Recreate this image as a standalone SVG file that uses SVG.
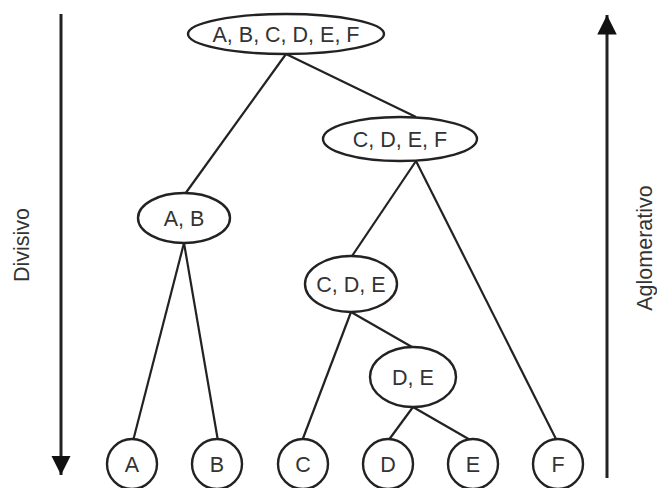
<svg xmlns="http://www.w3.org/2000/svg" width="657" height="488" viewBox="0 0 657 488">
  <style>
    .node { fill: #fff; stroke: #222; stroke-width: 2.4; }
    .lbl { font-family: "Liberation Sans", Arial, sans-serif; font-size: 21.5px; fill: #333; text-anchor: middle; }
    .edge { stroke: #222; stroke-width: 2.2; fill: none; }
    .axis { stroke: #222; stroke-width: 3; fill: none; }
  </style>
  <defs>
    <marker id="head" viewBox="0 0 10 10" refX="10" refY="5" markerWidth="6.5" markerHeight="6.5" markerUnits="strokeWidth" orient="auto">
      <path d="M0,0 L10,5 L0,10 Z" fill="#111"/>
    </marker>
  </defs>

  <rect width="657" height="488" fill="#fff"/>

  <!-- direction axes -->
  <g id="axes">
    <line class="axis" x1="61" y1="14" x2="61" y2="475" marker-end="url(#head)"/>
    <line class="axis" x1="607" y1="478" x2="607" y2="15" marker-end="url(#head)"/>
    <text class="lbl" transform="translate(29,245) rotate(-90)">Divisivo</text>
    <text class="lbl" transform="translate(652,248) rotate(-90)">Aglomerativo</text>
  </g>

  <!-- tree edges -->
  <g id="connectors">
    <line class="edge" x1="286" y1="54" x2="185" y2="194"/>
    <line class="edge" x1="286" y1="54" x2="416" y2="117"/>
    <line class="edge" x1="416" y1="161" x2="352" y2="256"/>
    <line class="edge" x1="416" y1="161" x2="557" y2="441"/>
    <line class="edge" x1="184" y1="243" x2="133" y2="441"/>
    <line class="edge" x1="184" y1="243" x2="218" y2="441"/>
    <line class="edge" x1="351" y1="312" x2="302" y2="441"/>
    <line class="edge" x1="351" y1="312" x2="412" y2="347"/>
    <line class="edge" x1="413" y1="407" x2="388" y2="441"/>
    <line class="edge" x1="413" y1="407" x2="472" y2="441"/>
  </g>

  <!-- clusters -->
  <g id="n-abcdef">
    <ellipse class="node" cx="286" cy="34" rx="98" ry="20"/>
    <text class="lbl" x="286" y="41.5">A, B, C, D, E, F</text>
  </g>
  <g id="n-cdef">
    <ellipse class="node" cx="400" cy="139" rx="77" ry="22"/>
    <text class="lbl" x="400" y="146.5">C, D, E, F</text>
  </g>
  <g id="n-ab">
    <ellipse class="node" cx="184" cy="218" rx="46" ry="25"/>
    <text class="lbl" x="184" y="225.5">A, B</text>
  </g>
  <g id="n-cde">
    <ellipse class="node" cx="351" cy="284" rx="46" ry="28"/>
    <text class="lbl" x="351" y="291.5">C, D, E</text>
  </g>
  <g id="n-de">
    <ellipse class="node" cx="413" cy="377" rx="43" ry="30"/>
    <text class="lbl" x="413" y="384.5">D, E</text>
  </g>

  <!-- leaves -->
  <g id="n-a"><circle class="node" cx="132" cy="464" r="25"/><text class="lbl" x="132" y="471.5">A</text></g>
  <g id="n-b"><circle class="node" cx="217" cy="464" r="25"/><text class="lbl" x="217" y="471.5">B</text></g>
  <g id="n-c"><circle class="node" cx="303" cy="464" r="25"/><text class="lbl" x="303" y="471.5">C</text></g>
  <g id="n-d"><circle class="node" cx="388" cy="464" r="25"/><text class="lbl" x="388" y="471.5">D</text></g>
  <g id="n-e"><circle class="node" cx="473" cy="464" r="25"/><text class="lbl" x="473" y="471.5">E</text></g>
  <g id="n-f"><circle class="node" cx="558" cy="464" r="25"/><text class="lbl" x="558" y="471.5">F</text></g>
</svg>
